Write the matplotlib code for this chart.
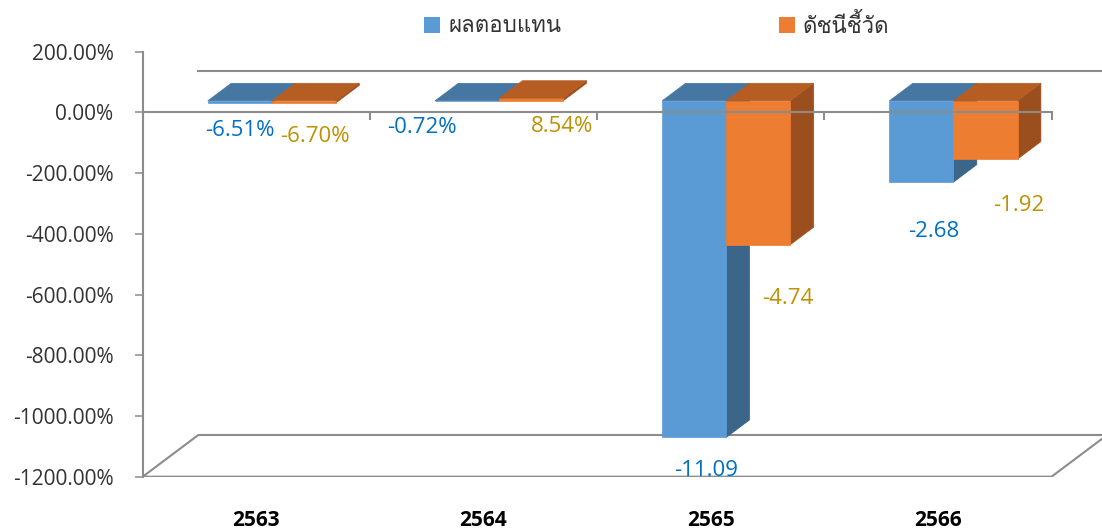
import numpy as np
import matplotlib
matplotlib.use("Agg")
import matplotlib.pyplot as plt
from matplotlib.patches import Polygon, Rectangle
from matplotlib.ticker import FuncFormatter
from matplotlib import font_manager
from matplotlib.ft2font import FT2Font

# ---- data ----
years = ["2563", "2564", "2565", "2566"]
series_names = ["ผลตอบแทน", "ดัชนีชี้วัด"]
returns = [-0.0651, -0.0072, -11.09, -2.68]
index_vals = [-0.0670, 0.0854, -4.74, -1.92]
return_labels = ["-6.51%", "-0.72%", "-11.09", "-2.68"]
index_labels = ["-6.70%", "8.54%", "-4.74", "-1.92"]
yticks = [-12, -10, -8, -6, -4, -2, 0, 2]

# ---- font with thai glyphs, if any ----
thai_font = None
for f in font_manager.fontManager.ttflist:
    try:
        if 0x0E1C in FT2Font(f.fname).get_charmap():
            thai_font = f.name
            break
    except Exception:
        pass
base_font = "Open Sans"
legend_family = [thai_font, base_font] if thai_font else [base_font, "DejaVu Sans"]
plt.rcParams['font.family'] = [base_font, "DejaVu Sans"]

W, H = 1102, 529
fig = plt.figure(figsize=(W / 100, H / 100), dpi=100)

# axes: y axis at x=143px, floor front edge at y=477px
ax_left, ax_bottom_px = 142.7, 476.7
ax = fig.add_axes([ax_left / W, (H - ax_bottom_px) / H, (W - ax_left) / W, ax_bottom_px / H])
cat_px = 227.2
unit_px = 30.35
ax.set_xlim(0, (W - ax_left) / cat_px)
ax.set_ylim(-12, -12 + ax_bottom_px / unit_px)

DX = 55.6 / cat_px      # depth offset in x units
DY = 41.7 / unit_px     # depth offset in y units
d0, d1 = 0.28, 0.70     # bar front/back depth
gap, bw = 0.218, 0.282

grey = "#8c8c8c"

# floor
fl = [(0, -12), (4, -12), (4 + DX, -12 + DY), (DX, -12 + DY)]
ax.add_patch(Polygon(fl, closed=True, facecolor="white", edgecolor=grey, lw=1.5, zorder=1))
# back wall zero line
ax.plot([DX, 4 + DX + 1], [DY, DY], color=grey, lw=1.5, zorder=1, clip_on=True)

colors = [("#5b9bd5", "#4677a3", "#3b6589"), ("#ed7d31", "#b55d22", "#9b4e1e")]


def bar3d(x0, v, cols):
    front, top, side = cols
    t = max(v, 0)
    ax.add_patch(Polygon([(x0 + bw + d0 * DX, d0 * DY), (x0 + bw + d1 * DX, d1 * DY),
                          (x0 + bw + d1 * DX, v + d1 * DY), (x0 + bw + d0 * DX, v + d0 * DY)],
                         facecolor=side, edgecolor=side, lw=0.5, zorder=3))
    ax.add_patch(Polygon([(x0 + d0 * DX, d0 * DY), (x0 + bw + d0 * DX, d0 * DY),
                          (x0 + bw + d0 * DX, v + d0 * DY), (x0 + d0 * DX, v + d0 * DY)],
                         facecolor=front, edgecolor=front, lw=0.5, zorder=3))
    ax.add_patch(Polygon([(x0 + d0 * DX, t + d0 * DY), (x0 + bw + d0 * DX, t + d0 * DY),
                          (x0 + bw + d1 * DX, t + d1 * DY), (x0 + d1 * DX, t + d1 * DY)],
                         facecolor=top, edgecolor=top, lw=0.5, zorder=3))


# label offsets in pixels from the bar end at mid depth
ret_off = [(-12, -36), (-57, -35), (0, -42), (1, -58)]
idx_off = [(-1, -42), (19, -37), (18, -63), (22, -55)]
dm = (d0 + d1) / 2

for i in range(len(years)):
    for k, (vals, labs, offs, tc) in enumerate([(returns, return_labels, ret_off, "#0070c0"),
                                                 (index_vals, index_labels, idx_off, "#bf9000")]):
        x0 = i + gap + k * bw
        bar3d(x0, vals[i], colors[k])
        ax.annotate(labs[i], xy=(x0 + bw / 2 + dm * DX, vals[i] + dm * DY),
                    xytext=offs[i], textcoords="offset pixels", ha="center", va="center",
                    fontsize=16, color=tc, zorder=6, annotation_clip=False)

# front zero line with category ticks
ax.plot([0, 4], [0, 0], color=grey, lw=1.5, zorder=5)
ax.vlines(range(5), -8 / unit_px, 0, color=grey, lw=1.5, zorder=5)

# axes styling
for s in ["top", "right", "bottom"]:
    ax.spines[s].set_visible(False)
ax.spines["left"].set_bounds(-12, 2)
ax.spines["left"].set_color(grey)
ax.spines["left"].set_linewidth(1.5)
ax.set_yticks(yticks)
ax.yaxis.set_major_formatter(FuncFormatter(lambda v, p: f"{v * 100:.2f}%"))
ax.tick_params(axis="y", length=6, width=1.1, color=grey, pad=15, labelsize=15, labelcolor="#333333")
ax.set_xticks([i + 0.5 for i in range(len(years))])
ax.set_xticklabels(years, fontsize=15, fontweight="bold")
ax.tick_params(axis="x", length=0, pad=24)
ax.patch.set_visible(False)

# legend
leg_x = [424, 779]
for k, name in enumerate(series_names):
    fig.add_artist(Rectangle((leg_x[k] / W, (H - 33) / H), 16 / W, 16 / H,
                             transform=fig.transFigure, facecolor=colors[k][0], edgecolor="none"))
    fig.text((leg_x[k] + 24) / W, (H - 26) / H, name, fontsize=16, va="center", ha="left",
             color="#333333", family=legend_family)

fig.savefig("out.png", dpi=100)
